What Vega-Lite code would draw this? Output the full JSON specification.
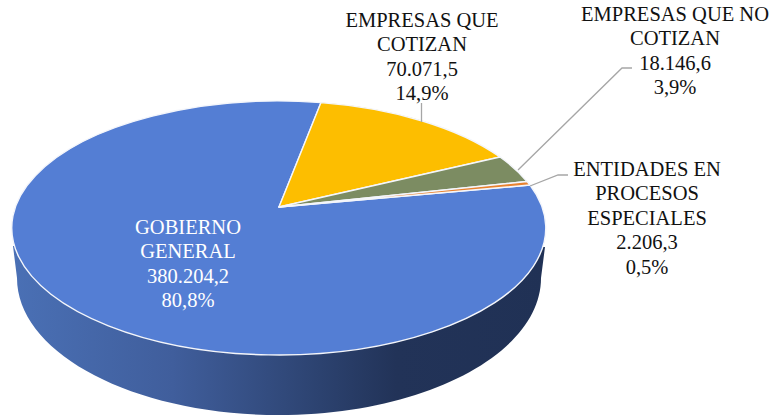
{
  "$schema": "https://vega.github.io/schema/vega-lite/v6.json",
  "width": 772,
  "height": 417,
  "autosize": {"type": "fit", "contains": "padding"},
  "padding": 0,
  "background": "white",
  "config": {"view": {"stroke": null}},
  "resolve": {"scale": {"shape": "independent"}},
  "data": {"values": [
    {"category": "GOBIERNO GENERAL", "value": 380204.2, "percent": 80.8, "label": "GOBIERNO\nGENERAL\n380.204,2\n80,8%"},
    {"category": "EMPRESAS QUE COTIZAN", "value": 70071.5, "percent": 14.9, "label": "EMPRESAS QUE\nCOTIZAN\n70.071,5\n14,9%"},
    {"category": "EMPRESAS QUE NO COTIZAN", "value": 18146.6, "percent": 3.9, "label": "EMPRESAS QUE NO\nCOTIZAN\n18.146,6\n3,9%"},
    {"category": "ENTIDADES EN PROCESOS ESPECIALES", "value": 2206.3, "percent": 0.5, "label": "ENTIDADES EN\nPROCESOS\nESPECIALES\n2.206,3\n0,5%"}
  ]},
  "layer": [
    {
      "data": {"values": [{"part": "lateral"}]},
      "mark": {
        "type": "point",
        "filled": true,
        "opacity": 1,
        "size": 4,
        "shape": "M-373,37.5 L-369,69.5 A262,137 0 0 0 155,69.5 L159,38.5 Z",
        "strokeWidth": 0,
        "fill": {
          "gradient": "linear", "x1": 0, "y1": 0, "x2": 1, "y2": 0,
          "stops": [
            {"offset": 0, "color": "#4a70b5"},
            {"offset": 0.3, "color": "#405e9c"},
            {"offset": 0.55, "color": "#2e4574"},
            {"offset": 0.72, "color": "#223358"},
            {"offset": 1, "color": "#203155"}
          ]
        }
      },
      "encoding": {}
    },
    {
      "mark": {"type": "point", "filled": true, "opacity": 1, "size": 4, "stroke": "#f4f6fb", "strokeWidth": 1.4, "strokeJoin": "round"},
      "encoding": {
        "color": {
          "field": "category", "type": "nominal", "legend": null,
          "scale": {
            "domain": ["GOBIERNO GENERAL", "EMPRESAS QUE COTIZAN", "EMPRESAS QUE NO COTIZAN", "ENTIDADES EN PROCESOS ESPECIALES"],
            "range": ["#547ed4", "#fdbe00", "#7c8c62", "#e8822f"]
          }
        },
        "shape": {
          "field": "category", "type": "nominal", "legend": null,
          "scale": {
            "domain": ["GOBIERNO GENERAL", "EMPRESAS QUE COTIZAN", "EMPRESAS QUE NO COTIZAN", "ENTIDADES EN PROCESOS ESPECIALES"],
            "range": [
              "M-107,-1.5 L144,-23.5 A267,127 0 1 1 -65,-105.9 Z",
              "M-107,-1.5 L-65,-105.9 A267,127 0 0 1 114,-51.5 Z",
              "M-107,-1.5 L114,-51.5 A267,127 0 0 1 141,-27 Z",
              "M-107,-1.5 L141,-27 A267,127 0 0 1 144,-23.5 Z"
            ]
          }
        }
      }
    },
    {
      "transform": [{"filter": "datum.value < 100000"}],
      "mark": {"type": "point", "filled": false, "opacity": 1, "size": 4, "stroke": "#a6a6a6", "strokeWidth": 1.3, "fill": null},
      "encoding": {
        "shape": {
          "field": "category", "type": "nominal", "legend": null,
          "scale": {
            "domain": ["EMPRESAS QUE COTIZAN", "EMPRESAS QUE NO COTIZAN", "ENTIDADES EN PROCESOS ESPECIALES"],
            "range": [
              "M35.5,-105.5 L35.5,-86.5",
              "M132,-38.5 L236,-140.5 L246,-140.5",
              "M144,-22.5 L172,-33.5 L182,-33.5"
            ]
          }
        }
      }
    },
    {
      "mark": {"type": "text", "font": "Liberation Serif", "fontSize": 20.5, "lineBreak": "\n", "lineHeight": 24.4, "align": "center", "baseline": "middle"},
      "encoding": {
        "text": {"field": "label", "type": "nominal"},
        "x": {
          "field": "value", "type": "quantitative", "axis": null,
          "scale": {"domain": [2206.3, 18146.6, 70071.5, 380204.2], "range": [647, 675, 422, 188], "zero": false, "nice": false}
        },
        "y": {
          "field": "value", "type": "quantitative", "axis": null,
          "scale": {"domain": [2206.3, 18146.6, 70071.5, 380204.2], "range": [170, 15, 21, 228], "zero": false, "nice": false}
        },
        "color": {
          "condition": {"test": "datum.value > 100000", "value": "#ffffff"},
          "value": "#111111"
        }
      }
    }
  ]
}
